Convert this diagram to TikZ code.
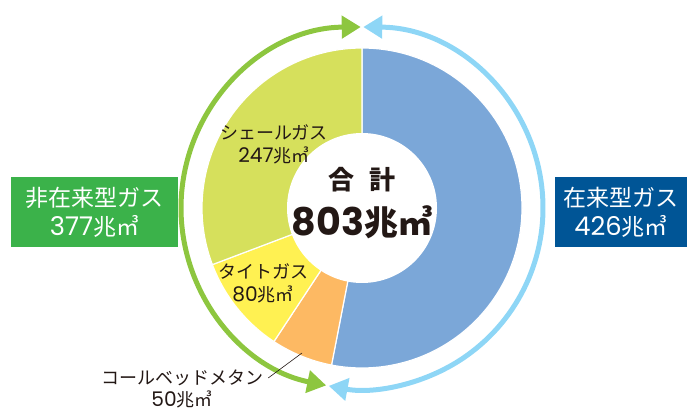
\documentclass[tikz,border=0pt]{standalone}
\usepackage{fontspec}
\setmainfont{Noto Sans CJK JP}
\newfontfamily\numfont{Poppins}[Scale=1.12]
\usetikzlibrary{arrows.meta}
\definecolor{shalegreen}{RGB}{214,224,92}
\definecolor{tightyellow}{RGB}{255,241,82}
\definecolor{cbmorange}{RGB}{253,185,99}
\definecolor{convblue}{RGB}{123,167,216}
\definecolor{arrowgreen}{RGB}{141,198,63}
\definecolor{arrowblue}{RGB}{142,214,246}
\definecolor{boxgreen}{RGB}{59,178,74}
\definecolor{boxblue}{RGB}{0,85,150}
\definecolor{labelblack}{RGB}{35,24,21}
% amount in trillion cubic metres
\newcommand{\amount}[1]{{\numfont #1}兆㎥}

\begin{document}
\begin{tikzpicture}[x=1pt, y=1pt,
    pie slice/.style={fill=#1, draw=white, line width=1.2pt},
    total arrow/.style={line width=5pt, {Triangle[length=19pt,width=22pt]}-{Triangle[length=19pt,width=22pt]}},
    type box/.style={text=white, align=center, minimum width=167pt, minimum height=70pt, inner sep=0pt, font=\fontsize{23}{29}\selectfont},
    slice label/.style={text=labelblack, align=center, font=\fontsize{18}{23}\selectfont}
]
\useasboundingbox (0,0) rectangle (687,412);
\coordinate (c) at (362,204);

% === Pie: 803 in total ===
\path[pie slice=convblue] (c) -- ++(90:160) arc[start angle=90, end angle=-100.98, radius=160] -- cycle;
\path[pie slice=cbmorange] (c) -- ++(-100.98:160) arc[start angle=-100.98, end angle=-123.40, radius=160] -- cycle;
\path[pie slice=tightyellow] (c) -- ++(-123.40:160) arc[start angle=-123.40, end angle=-159.27, radius=160] -- cycle;
\path[pie slice=shalegreen] (c) -- ++(-159.27:160) arc[start angle=-159.27, end angle=-270, radius=160] -- cycle;

% Hole in the middle
\fill[white] (c) circle[radius=75];

% === Arrows round the pie ===
\draw[total arrow, arrowgreen] (c) ++(90.4:181) arc[start angle=90.4, end angle=258.6, radius=181];
\draw[total arrow, arrowblue] (c) ++(89.6:181) arc[start angle=89.6, end angle=-100.6, radius=181];

% === Side boxes ===
\node[type box, fill=boxgreen] (unconv) at (94.5,200) {非在来型ガス\\\amount{377}};
\node[type box, fill=boxblue, minimum width=132pt] (conv) at (621,200) {在来型ガス\\\amount{426}};

% === Slice labels ===
\node[slice label] (shale) at (274,267.5) {シェールガス\\\amount{247}};
\node[slice label] (tight) at (263,128.5) {タイトガス\\\amount{80}};
\node[slice label, inner sep=1pt] (cbmname) at (182,34) {コールベッドメタン};
\node[slice label, inner sep=1pt] (cbmvalue) at (182,13) {\amount{50}};
\coordinate (cbmtip) at (302,59);
\draw[labelblack, line width=0.6pt] ([xshift=4pt]cbmname.east) -- (cbmtip);

% Total
\node[font=\fontsize{26}{30}\selectfont\bfseries, text=labelblack] (totaltitle) at (362,232) {合\hspace{0.55em}計};
\node[font=\fontsize{34}{40}\selectfont\bfseries, text=labelblack] (totalvalue) at (362,190) {\amount{803}};

\end{tikzpicture}
\end{document}
